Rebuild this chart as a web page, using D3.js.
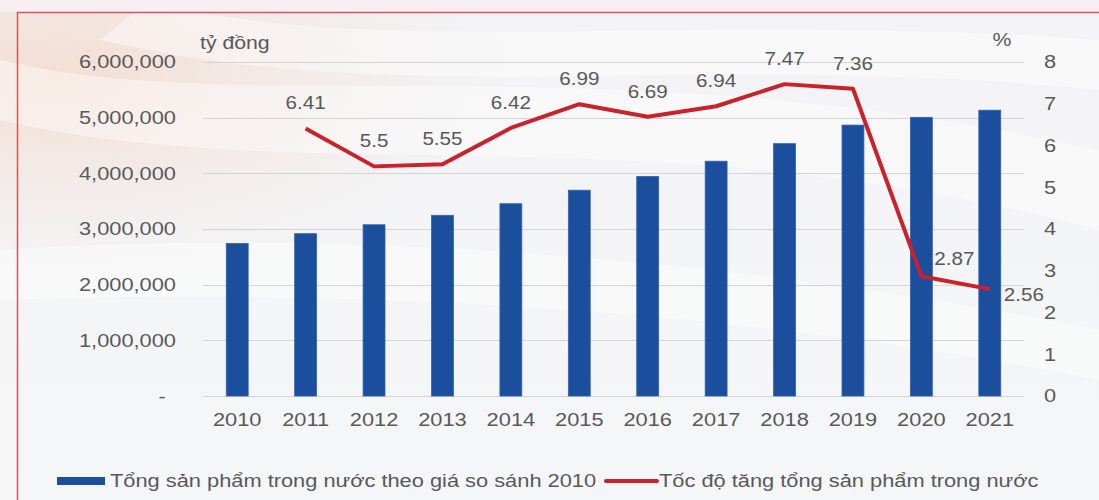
<!DOCTYPE html>
<html>
<head>
<meta charset="utf-8">
<script src="https://cdn.jsdelivr.net/npm/d3@7"></script>
<style>
  html, body { margin: 0; padding: 0; background: #f1f1f3; }
  svg { display: block; }
  text { font-family: "Liberation Sans", Arial, sans-serif; fill: #595959; }
</style>
</head>
<body>
<svg id="chart" width="1099" height="500"></svg>
<script>
// GDP at constant 2010 prices (billion VND) and its annual growth rate (%)
const years = ["2010", "2011", "2012", "2013", "2014", "2015", "2016", "2017", "2018", "2019", "2020", "2021"];
const gdp = [2739843, 2915517, 3075870, 3245419, 3453760, 3696800, 3944100, 4217800, 4532900, 4866500, 5005700, 5134000];
const growthYears = ["2011", "2012", "2013", "2014", "2015", "2016", "2017", "2018", "2019", "2020", "2021"];
const growth = [6.41, 5.5, 5.55, 6.42, 6.99, 6.69, 6.94, 7.47, 7.36, 2.87, 2.56];
const leftTicks = [0, 1000000, 2000000, 3000000, 4000000, 5000000, 6000000];
const rightTicks = [0, 1, 2, 3, 4, 5, 6, 7, 8];
const legendLabels = ["Tổng sản phẩm trong nước theo giá so sánh 2010", "Tốc độ tăng tổng sản phẩm trong nước"];

const W = 1099, H = 500;
const plot = { left: 203, right: 1024, top: 62, bottom: 396 };
const STRETCH = 1.18;
const BAR_COLOR = "#1b4f9e";
const LINE_COLOR = "#c9222b";

const svg = d3.select("#chart");
const defs = svg.append("defs");

// ---- background ----
const warm = defs.append("radialGradient").attr("id", "warm")
  .attr("cx", 0.05).attr("cy", 0.15).attr("r", 0.45);
warm.append("stop").attr("offset", 0).attr("stop-color", "#f3dacd").attr("stop-opacity", 0.85);
warm.append("stop").attr("offset", 0.6).attr("stop-color", "#f2e5e0").attr("stop-opacity", 0.45);
warm.append("stop").attr("offset", 1).attr("stop-color", "#f1f1f3").attr("stop-opacity", 0);

const base = defs.append("linearGradient").attr("id", "base")
  .attr("x1", 0).attr("y1", 0).attr("x2", 0).attr("y2", 1);
base.append("stop").attr("offset", 0).attr("stop-color", "#f3f3f5");
base.append("stop").attr("offset", 1).attr("stop-color", "#f5f6f7");

svg.append("rect").attr("width", W).attr("height", H).attr("fill", "url(#base)");
svg.append("rect").attr("width", W).attr("height", H).attr("fill", "url(#warm)");

// soft diagonal light bands
const bands = [
  "M0,60 C250,120 600,40 1099,150 L1099,230 C650,110 300,190 0,120 Z",
  "M150,0 C350,60 700,10 1099,40 L1099,90 C700,50 400,110 100,40 Z",
  "M0,250 C300,230 700,250 1099,330 L1099,380 C700,300 300,290 0,300 Z"
];
svg.selectAll("path.band").data(bands).join("path")
  .attr("class", "band").attr("d", d => d)
  .attr("fill", "#ffffff").attr("opacity", 0.4);

// top strip and framing border
svg.append("rect").attr("x", 0).attr("y", 0).attr("width", W).attr("height", 12)
  .attr("fill", "#f6eef2");
svg.append("path")
  .attr("d", `M17.5,${H} L17.5,12.5 L${W},12.5`)
  .attr("fill", "none").attr("stroke", "#d7545a").attr("stroke-width", 1.5);

// ---- scales ----
const x = d3.scaleBand().domain(years).range([plot.left, plot.right]).paddingInner(0.68).paddingOuter(0.34);
const yL = d3.scaleLinear().domain([0, 6000000]).range([plot.bottom, plot.top]);
const yR = d3.scaleLinear().domain([0, 8]).range([plot.bottom, plot.top]);

// text drawn with a slight horizontal stretch
function stext(parent, px, py, str, anchor, size) {
  const g = parent.append("g").attr("transform", `translate(${px},${py}) scale(${STRETCH},1)`);
  g.append("text").attr("text-anchor", anchor || "middle")
    .attr("dominant-baseline", "central")
    .style("font-size", (size || 18.5) + "px").text(str);
  return g;
}

// ---- gridlines ----
svg.append("g").selectAll("line").data(leftTicks).join("line")
  .attr("x1", plot.left).attr("x2", plot.right)
  .attr("y1", d => Math.round(yL(d)) + 0.5).attr("y2", d => Math.round(yL(d)) + 0.5)
  .attr("stroke", "#d4d4d6").attr("stroke-width", 1.2);

// ---- left axis labels ----
const fmt = d3.format(",");
const leftG = svg.append("g");
leftTicks.forEach(t => {
  if (t === 0) stext(leftG, 162, yL(t) + 1, "-", "middle");
  else stext(leftG, 176, yL(t), fmt(t), "end");
});
stext(svg, 200, 43, "tỷ đồng", "start", 18);

// ---- right axis labels ----
const rightG = svg.append("g");
rightTicks.forEach(t => stext(rightG, 1050, yR(t), String(t), "middle"));
stext(svg, 1002, 40, "%", "middle", 18);

// ---- category labels ----
const catG = svg.append("g");
years.forEach(yr => stext(catG, x(yr) + x.bandwidth() / 2, 420, yr, "middle"));

// ---- bars ----
svg.append("g").selectAll("rect").data(years.map((yr, i) => ({ yr, v: gdp[i] }))).join("rect")
  .attr("x", d => x(d.yr)).attr("width", x.bandwidth())
  .attr("y", d => yL(d.v)).attr("height", d => yL(0) - yL(d.v))
  .attr("fill", BAR_COLOR).attr("stroke", "#2d62b0").attr("stroke-width", 0.8);

// ---- growth line ----
const pts = growthYears.map((yr, i) => ({ yr, v: growth[i], cx: x(yr) + x.bandwidth() / 2, cy: yR(growth[i]) }));
svg.append("path").datum(pts)
  .attr("d", d3.line().x(d => d.cx).y(d => d.cy))
  .attr("fill", "none").attr("stroke", LINE_COLOR).attr("stroke-width", 4)
  .attr("stroke-linejoin", "round");

// ---- value labels ----
const lblG = svg.append("g");
pts.forEach(p => {
  if (p.yr === "2020") stext(lblG, p.cx + 33, p.cy - 17, String(p.v), "middle", 17.5);
  else if (p.yr === "2021") stext(lblG, p.cx + 14, p.cy + 6, String(p.v), "start", 17.5);
  else stext(lblG, p.cx, p.cy - 25, String(p.v), "middle", 17.5);
});

// ---- legend ----
const lg = svg.append("g");
lg.append("rect").attr("x", 57).attr("y", 477).attr("width", 48).attr("height", 8).attr("fill", BAR_COLOR);
stext(lg, 110, 481, legendLabels[0], "start", 18.5);
lg.append("line").attr("x1", 606).attr("x2", 657).attr("y1", 481).attr("y2", 481)
  .attr("stroke", LINE_COLOR).attr("stroke-width", 4).attr("stroke-linecap", "round");
stext(lg, 659, 481, legendLabels[1], "start", 18.5);
</script>
</body>
</html>
